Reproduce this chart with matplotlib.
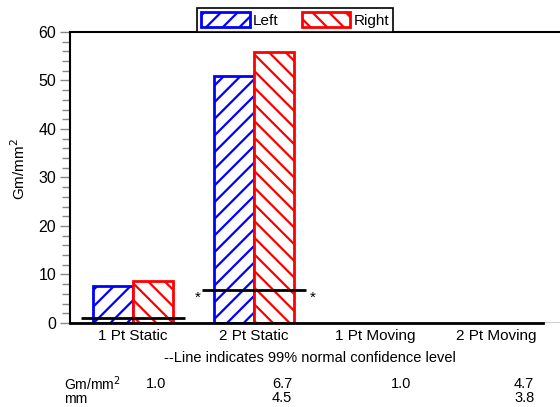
import matplotlib
matplotlib.use("Agg")
import matplotlib.pyplot as plt
import numpy as np
from matplotlib.patches import Patch

plt.rcParams['font.family'] = ['Liberation Sans', 'DejaVu Sans']
plt.rcParams['hatch.linewidth'] = 1.6

categories = ["1 Pt Static", "2 Pt Static", "1 Pt Moving", "2 Pt Moving"]
left_vals = [7.7, 50.9, 0.0, 0.0]
right_vals = [8.6, 55.8, 0.0, 0.0]
ci_gm = [1.0, 6.7, 1.0, 4.7]
ci_gm_labels = ["1.0", "6.7", "1.0", "4.7"]
ci_mm_labels = ["", "4.5", "", "3.8"]
ci_drawn = [True, True, False, False]
ci_star = [False, True, False, False]

fig = plt.figure(figsize=(5.6, 4.07), dpi=100)
ax = fig.add_axes([0.125, 0.2064, 0.875, 0.715])

x = np.arange(len(categories))
w = 0.33
for i in range(len(categories)):
    if left_vals[i] > 0:
        ax.bar(x[i] - w/2, left_vals[i], w, facecolor='white', edgecolor='#0000ff',
               hatch='//', linewidth=2, zorder=2)
    if right_vals[i] > 0:
        ax.bar(x[i] + w/2, right_vals[i], w, facecolor='white', edgecolor='#ff0000',
               hatch='\\\\', linewidth=2, zorder=2)

hw = 0.43
for i in range(len(categories)):
    if ci_drawn[i]:
        ax.plot([x[i] - hw, x[i] + hw], [ci_gm[i], ci_gm[i]], color='black', lw=2, zorder=3,
                solid_capstyle='butt')
        if ci_star[i]:
            ax.text(x[i] - hw - 0.01, ci_gm[i], "*", ha='right', va='top', fontsize=11)
            ax.text(x[i] + hw + 0.035, ci_gm[i], "*", ha='left', va='top', fontsize=11)

ax.set_xlim(-0.52, 3.53)
ax.set_ylim(0, 60)
ax.set_xticks(x)
ax.set_xticklabels(categories, fontsize=11)
ax.tick_params(axis='x', length=0, pad=4)
ax.set_yticks(np.arange(0, 61, 10))
ax.set_yticks(np.arange(0, 61, 2), minor=True)
ax.tick_params(axis='y', which='major', length=7, width=1, color='#888888', labelsize=11.5, pad=3)
ax.tick_params(axis='y', which='minor', length=6, width=1, color='#888888')
ax.spines['right'].set_visible(False)
ax.spines['left'].set_linewidth(1.5)
ax.spines['top'].set_linewidth(1.5)
ax.spines['bottom'].set_linewidth(2)
ax.spines['bottom'].set_bounds(-0.52, 3.39)
ax.axhline(0, color='black', lw=1, zorder=1)

ax.set_ylabel("Gm/mm$^2$", fontsize=11)
ax.yaxis.set_label_coords(-0.085, 0.53)

handles = [Patch(facecolor='white', edgecolor='#0000ff', hatch='//', linewidth=2, label='Left'),
           Patch(facecolor='white', edgecolor='#ff0000', hatch='\\\\', linewidth=2, label='Right')]
leg = fig.legend(handles=handles, loc='center', bbox_to_anchor=(0.527, 0.951), ncol=2,
                 fontsize=11, frameon=True, fancybox=False, framealpha=1, edgecolor='black',
                 handlelength=3.2, handleheight=1.15, handletextpad=0.2, columnspacing=1.5,
                 borderpad=0.25, borderaxespad=0)
leg.get_frame().set_linewidth(1.2)

fig.text(0.553, 0.121, "--Line indicates 99% normal confidence level", ha='center', va='center', fontsize=10.5)
fig.text(0.114, 0.058, "Gm/mm$^2$", ha='left', va='center', fontsize=10)
fig.text(0.114, 0.019, "mm", ha='left', va='center', fontsize=10)
xpos = [0.279, 0.522, 0.716, 0.954]
align = ['center', 'right', 'center', 'right']
for i in range(4):
    fig.text(xpos[i], 0.056, ci_gm_labels[i], ha=align[i], va='center', fontsize=10.5)
    if ci_mm_labels[i]:
        fig.text(xpos[i], 0.021, ci_mm_labels[i], ha=align[i], va='center', fontsize=10.5)

fig.savefig("out.png", dpi=100)
